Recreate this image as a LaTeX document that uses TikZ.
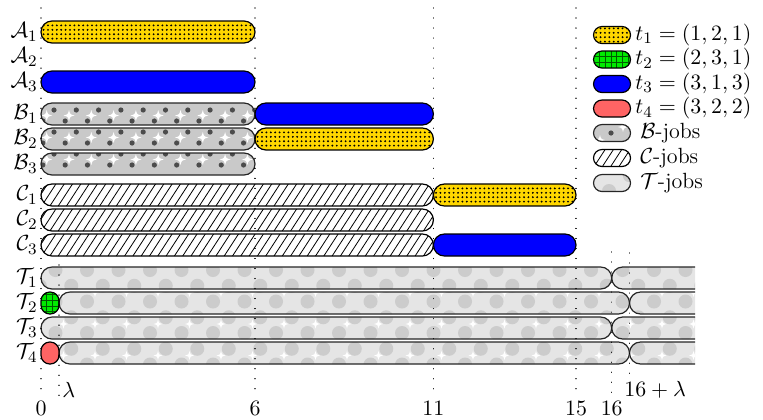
\documentclass[tikz,border=0pt]{standalone}
\usepackage{amsmath}
\definecolor{jyel}{RGB}{255,215,0}
\definecolor{jgreen}{RGB}{0,235,0}
\definecolor{jblue}{RGB}{0,0,255}
\definecolor{jred}{RGB}{255,100,100}
\definecolor{jgrid}{RGB}{0,90,0}
\tikzset{
 bord/.style={draw=black, line width=0.6pt},
 tbord/.style={draw=black!85, line width=0.6pt},
 vline/.style={draw=black, line width=0.6pt, dash pattern=on 0.01pt off 5pt, line cap=round},
 lab/.style={inner sep=0pt}
}
% yellow dotted bar: x1,x2,yc,hh,radius
\newcommand\ybar[5]{%
 \begin{scope}
  \clip[rounded corners=#5] (#1,#3-#4) rectangle (#2,#3+#4);
  \fill[jyel] (#1,#3-#4) rectangle (#2,#3+#4);
  \pgfmathtruncatemacro\nn{(#2-#1)/4.4}
  \foreach \i in {0,...,\nn}{\foreach \j in {-1.5,-0.5,0.5,1.5}{\fill[black] ({#1+2.6+4.4*\i},{#3+4.4*\j}) circle[radius=1.05];}}
 \end{scope}
 \draw[bord, rounded corners=#5] (#1,#3-#4) rectangle (#2,#3+#4);
}
% green grid bar
\newcommand\gbar[5]{%
 \begin{scope}
  \clip[rounded corners=#5] (#1,#3-#4) rectangle (#2,#3+#4);
  \fill[jgreen] (#1,#3-#4) rectangle (#2,#3+#4);
  \pgfmathtruncatemacro\nn{(#2-#1)/5.8}
  \foreach \i in {1,...,\nn}{\draw[jgrid, line width=0.4pt] ({#1+5.8*\i},#3-#4) -- ({#1+5.8*\i},#3+#4);}
  \foreach \j in {-2,...,2}{\draw[jgrid, line width=0.4pt] (#1,{#3+5.8*\j-2.9}) -- (#2,{#3+5.8*\j-2.9});}
 \end{scope}
 \draw[bord, rounded corners=#5] (#1,#3-#4) rectangle (#2,#3+#4);
}
% plain bar: colour,x1,x2,yc,hh,radius
\newcommand\pbar[6]{%
 \draw[bord, fill=#1, rounded corners=#6] (#2,#4-#5) rectangle (#3,#4+#5);
}
% hatched bar
\newcommand\cbar[5]{%
 \begin{scope}
  \clip[rounded corners=#5] (#1,#3-#4) rectangle (#2,#3+#4);
  \fill[white] (#1,#3-#4) rectangle (#2,#3+#4);
  \pgfmathtruncatemacro\nn{(#2-#1+20)/8.3}
  \foreach \i in {0,...,\nn}{\draw[line width=0.4pt] ({#1-16+8.3*\i},#3+#4) -- ++({1.3*#4},{-2*#4});}
 \end{scope}
 \draw[bord, rounded corners=#5] (#1,#3-#4) rectangle (#2,#3+#4);
}
% four-pointed sparkle
\newcommand\sparkle[3]{%
 \fill[white] ({#1},{#2-#3}) .. controls ({#1+0.2*#3},{#2-0.2*#3}) .. ({#1+#3},{#2})
  .. controls ({#1+0.2*#3},{#2+0.2*#3}) .. ({#1},{#2+#3})
  .. controls ({#1-0.2*#3},{#2+0.2*#3}) .. ({#1-#3},{#2})
  .. controls ({#1-0.2*#3},{#2-0.2*#3}) .. ({#1},{#2-#3}) -- cycle;
}
\begin{document}
\begin{tikzpicture}[x=0.5pt,y=-0.5pt, font=\fontsize{11}{13}\selectfont]
\useasboundingbox (0,0) rectangle (763,419);

% ---------- A rows
\ybar{41}{255}{32}{11}{5.5pt}
\pbar{jblue}{41}{255}{82}{11}{5.5pt}

% ---------- B rows (grey pattern)
\begin{scope}
 \clip[rounded corners=5.5pt] (41,103) rectangle (255,125) (41,128) rectangle (255,150) (41,153) rectangle (255,175);
 \fill[black!21] (30,95) rectangle (260,180);
 \foreach \i in {-1,...,10}{\foreach \j in {0,1,2}{
   \sparkle{46.7+22.3*\i}{115.5+22*\j}{5.5}
 }}
 \foreach \i in {-1,...,10}{\foreach \j in {0,1,2}{
   \fill[black!70] ({54+22.3*\i},{110+22*\j}) circle[radius=2.6];
   \fill[black!70] ({65.15+22.3*\i},{121+22*\j}) circle[radius=2.6];
 }}
\end{scope}
\draw[tbord, rounded corners=5.5pt] (41,103) rectangle (255,125);
\draw[tbord, rounded corners=5.5pt] (41,128) rectangle (255,150);
\draw[tbord, rounded corners=5.5pt] (41,153) rectangle (255,175);
\pbar{jblue}{255}{433.4}{114}{11}{5.5pt}
\ybar{255}{433.4}{139}{11}{5.5pt}

% ---------- C rows
\cbar{41}{433.4}{195}{11}{5.5pt}
\cbar{41}{433.4}{220}{11}{5.5pt}
\cbar{41}{433.4}{245}{11}{5.5pt}
\ybar{433.4}{576}{195}{11}{5.5pt}
\pbar{jblue}{433.4}{576}{245}{11}{5.5pt}

% ---------- T rows
\begin{scope}
 \clip (0,0) rectangle (695,419);
 \begin{scope}
  \clip[rounded corners=5.5pt]
   (41,267) rectangle (611.7,289) (611.7,267) rectangle (730,289)
   (59,292) rectangle (629.5,314) (629.5,292) rectangle (730,314)
   (41,317) rectangle (611.7,339) (611.7,317) rectangle (730,339)
   (59,342) rectangle (629.5,364) (629.5,342) rectangle (730,364);
  \fill[black!10] (30,255) rectangle (740,370);
  \foreach \i in {-1,...,21}{\foreach \j in {0,...,3}{
    \sparkle{63.5+31.5*\i}{261+31.5*\j}{4.5}
  }}
  \foreach \i in {-1,...,21}{\foreach \j in {0,...,3}{
    \fill[black!20] ({87+31.5*\i},{270+31.5*\j}) circle[radius=7];
    \fill[black!20] ({71.25+31.5*\i},{285.75+31.5*\j}) circle[radius=7];
  }}
 \end{scope}
 \draw[tbord, rounded corners=5.5pt] (41,267) rectangle (611.7,289);
 \draw[tbord, rounded corners=5.5pt] (611.7,267) rectangle (730,289);
 \draw[tbord, rounded corners=5.5pt] (59,292) rectangle (629.5,314);
 \draw[tbord, rounded corners=5.5pt] (629.5,292) rectangle (730,314);
 \draw[tbord, rounded corners=5.5pt] (41,317) rectangle (611.7,339);
 \draw[tbord, rounded corners=5.5pt] (611.7,317) rectangle (730,339);
 \draw[tbord, rounded corners=5.5pt] (59,342) rectangle (629.5,364);
 \draw[tbord, rounded corners=5.5pt] (629.5,342) rectangle (730,364);
\end{scope}
\gbar{41}{59}{303}{11}{4.4pt}
\pbar{jred}{41}{59}{353}{11}{4.4pt}

% ---------- legend
\ybar{593.5}{630.5}{35}{8.5}{4.25pt}
\gbar{593.5}{630.5}{59.5}{8.5}{4.25pt}
\pbar{jblue}{593.5}{630.5}{84}{8.5}{4.25pt}
\pbar{jred}{593.5}{630.5}{108.5}{8.5}{4.25pt}
\begin{scope}
 \clip[rounded corners=4.25pt] (593.5,124.5) rectangle (630.5,141.5);
 \fill[black!21] (590,120) rectangle (635,145);
 \sparkle{600}{140}{5}
 \sparkle{623}{127}{5}
 \fill[black!70] (611,133) circle[radius=2.6];
\end{scope}
\draw[tbord, rounded corners=4.25pt] (593.5,124.5) rectangle (630.5,141.5);
\cbar{593.5}{630.5}{158}{8.5}{4.25pt}
\begin{scope}
 \clip[rounded corners=4.25pt] (593.5,174.5) rectangle (630.5,191.5);
 \fill[black!10] (590,170) rectangle (635,195);
 \fill[black!20] (609,191) circle[radius=7];
 \fill[black!20] (629,176) circle[radius=6];
\end{scope}
\draw[tbord, rounded corners=4.25pt] (593.5,174.5) rectangle (630.5,191.5);

\node[lab, anchor=west] (l1) at (635,35) {$t_1=(1,2,1)$};
\node[lab, anchor=west] (l2) at (635,59.5) {$t_2=(2,3,1)$};
\node[lab, anchor=west] (l3) at (635,84) {$t_3=(3,1,3)$};
\node[lab, anchor=west] (l4) at (635,108.5) {$t_4=(3,2,2)$};
\node[lab, anchor=west] (lB) at (640,133) {$\mathcal{B}$-jobs};
\node[lab, anchor=west] (lC) at (640,158) {$\mathcal{C}$-jobs};
\node[lab, anchor=west] (lT) at (640,183) {$\mathcal{T}$-jobs};

% ---------- row labels
\node[lab, anchor=east] (ra1) at (38,32) {$\mathcal{A}_1$};
\node[lab, anchor=east] (ra2) at (38,57) {$\mathcal{A}_2$};
\node[lab, anchor=east] (ra3) at (38,82) {$\mathcal{A}_3$};
\node[lab, anchor=east] (rb1) at (38,114) {$\mathcal{B}_1$};
\node[lab, anchor=east] (rb2) at (38,139) {$\mathcal{B}_2$};
\node[lab, anchor=east] (rb3) at (38,164) {$\mathcal{B}_3$};
\node[lab, anchor=east] (rc1) at (38,195) {$\mathcal{C}_1$};
\node[lab, anchor=east] (rc2) at (38,220) {$\mathcal{C}_2$};
\node[lab, anchor=east] (rc3) at (38,245) {$\mathcal{C}_3$};
\node[lab, anchor=east] (rt1) at (38,278) {$\mathcal{T}_1$};
\node[lab, anchor=east] (rt2) at (38,303) {$\mathcal{T}_2$};
\node[lab, anchor=east] (rt3) at (38,328) {$\mathcal{T}_3$};
\node[lab, anchor=east] (rt4) at (38,353) {$\mathcal{T}_4$};

% ---------- time axis labels
\node[lab] (x0) at (41,408) {$0$};
\node[lab] (x6) at (255,408) {$6$};
\node[lab] (x11) at (433.4,408) {$11$};
\node[lab] (x15) at (576,408) {$15$};
\node[lab] (x16) at (611.7,408) {$16$};
\node[lab, anchor=west] (xl) at (62,390) {$\lambda$};
\node[lab, anchor=west] (xl16) at (624,390) {$16+\lambda$};

% ---------- dotted time lines
\coordinate (v0t) at (41,8);   \coordinate (v0b) at (41,396);
\coordinate (v6t) at (255,8);  \coordinate (v6b) at (255,396);
\coordinate (v11t) at (433.4,8); \coordinate (v11b) at (433.4,396);
\coordinate (v15t) at (576,8); \coordinate (v15b) at (576,396);
\coordinate (v16t) at (611.7,252); \coordinate (v16b) at (611.7,396);
\coordinate (vlt) at (59,265); \coordinate (vlb) at (59,398);
\coordinate (vl16t) at (629.5,253); \coordinate (vl16b) at (629.5,380);
\draw[vline] (v0t) -- (v0b);
\draw[vline] (v6t) -- (v6b);
\draw[vline] (v11t) -- (v11b);
\draw[vline] (v15t) -- (v15b);
\draw[vline] (v16t) -- (v16b);
\draw[vline] (vlt) -- (vlb);
\draw[vline] (vl16t) -- (vl16b);
\end{tikzpicture}
\end{document}
